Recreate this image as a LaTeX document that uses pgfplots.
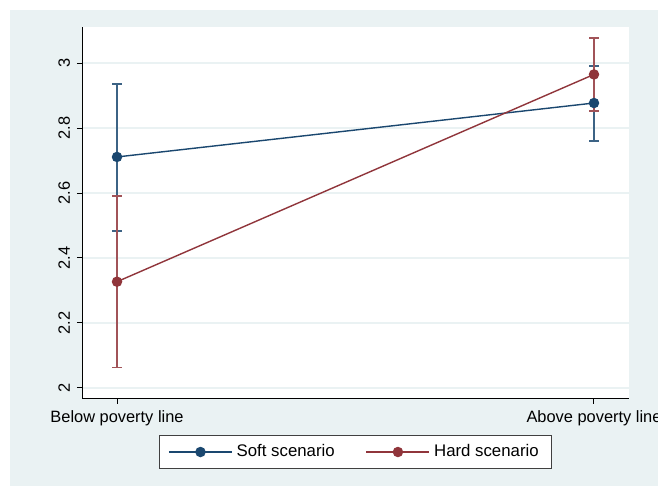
\documentclass[border=0pt]{standalone}
\usepackage{fontspec}
\setmainfont{Liberation Sans}
\usepackage{pgfplots}
\pgfplotsset{compat=1.18}
\definecolor{sbg}{RGB}{234,242,243}
\definecolor{snavy}{RGB}{26,71,111}
\definecolor{smaroon}{RGB}{144,53,59}
\begin{document}
\begin{tikzpicture}
\useasboundingbox (-41pt,-43.5pt) rectangle (288pt,199.5pt);
\fill[sbg] (-36pt,-43.5pt) rectangle (300pt,194.5pt);
\begin{axis}[
  at={(0pt,0pt)}, anchor=south west,
  scale only axis, width=273.5pt, height=186pt,
  xmin=-0.0734, xmax=1.0734, ymin=1.966, ymax=3.111,
  axis background/.style={fill=white},
  axis lines=left, axis line style={-, black, line width=0.5pt},
  tick align=outside, major tick length=2.5pt,
  tick style={black, line width=0.5pt},
  xtick={0,1}, xticklabels={Below poverty line, Above poverty line},
  ytick={2,2.2,2.4,2.6,2.8,3},
  yticklabels={2,2.2,2.4,2.6,2.8,3},
  yticklabel style={rotate=90, anchor=south},
  ymajorgrids, major grid style={sbg, line width=0.6pt},
  font=\fontsize{8.2}{10}\selectfont,
  ticklabel style={font=\fontsize{8.2}{10}\selectfont},
  legend columns=2,
  legend style={at={(0.5,-0.1425)}, anchor=center, draw=black!75, fill=white,
    line width=0.5pt, inner xsep=4.5pt, inner ysep=2.4pt,
    font=\fontsize{8.4}{10}\selectfont,
    /tikz/every even column/.append style={column sep=13.5pt}},
  legend image code/.code={\draw[#1, mark repeat=2, mark phase=2] plot coordinates {(0pt,0pt) (15.75pt,0pt) (31.5pt,0pt)};},
  clip=false,
]
\addplot[snavy, line width=0.7pt, mark=*, mark size=2.25pt, mark options={solid},
  error bars/.cd, y dir=both, y explicit, error mark=-,
  error bar style={snavy!85!white, line width=0.75pt},
  error mark options={snavy!85!white, line width=0.75pt, mark size=2.3pt, rotate=90}]
  coordinates {(0,2.711) +=(0,0.224) -=(0,0.228) (1,2.877) +=(0,0.114) -=(0,0.117)};
\addlegendentry{Soft scenario}
\addplot[smaroon, line width=0.7pt, mark=*, mark size=2.25pt, mark options={solid},
  error bars/.cd, y dir=both, y explicit, error mark=-,
  error bar style={smaroon!85!white, line width=0.75pt},
  error mark options={smaroon!85!white, line width=0.75pt, mark size=2.3pt, rotate=90}]
  coordinates {(0,2.327) +=(0,0.264) -=(0,0.264) (1,2.965) +=(0,0.112) -=(0,0.112)};
\addlegendentry{Hard scenario}
\end{axis}
\end{tikzpicture}
\end{document}
